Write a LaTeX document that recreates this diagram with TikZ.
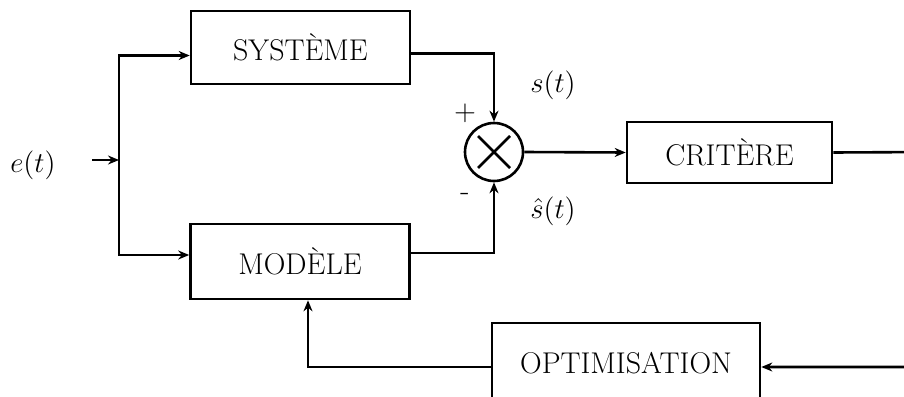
\documentclass[tikz,border=0pt]{standalone}
\usepackage{fontspec}
\usetikzlibrary{arrows.meta}
\begin{document}
\begin{tikzpicture}[x=0.5pt,y=-0.5pt,
  every node/.style={font=\fontsize{15}{18}\selectfont},
  blk/.style={draw, line width=1.3pt, rectangle, inner sep=0pt},
  wire/.style={line width=1.3pt},
  arr/.style={wire, -{Stealth[length=5.5pt,width=4.5pt]}},
  lbl/.style={inner sep=0pt}]
\useasboundingbox (0,0) rectangle (904,396);
% blocks
\node[blk, minimum width=109.5pt, minimum height=36.5pt] (sys) at (300.5,47.5) {SYSTÈME};
\node[blk, minimum width=109.5pt, minimum height=37.5pt] (mod) at (300,261.5) {MODÈLE};
\node[blk, minimum width=102.5pt, minimum height=30.5pt] (crit) at (729.5,152.5) {CRITÈRE};
\node[blk, minimum width=134pt, minimum height=40pt] (opt) at (626,363) {OPTIMISATION};
\node[draw, circle, line width=1.3pt, minimum size=29pt, inner sep=0pt] (sum) at (494,152) {};
\draw[wire] (sum.center) ++(-16,-16) -- ++(32,32);
\draw[wire] (sum.center) ++(-16,16) -- ++(32,-32);
% labels
\node[lbl] (e) at (33,165) {$e(t)$};
\node[lbl] (s) at (553,85) {$s(t)$};
\node[lbl] (sh) at (553,211) {$\hat{s}(t)$};
\node[lbl] (plus) at (465,113) {$+$};
\node[lbl] (minus) at (465,197) {-};
% connectors
\coordinate (in) at (92,160);
\coordinate (j) at (119,160);
\coordinate (r) at (930,152);
\draw[arr] (in) -- (j);
\draw[arr] (j) |- ([yshift=-4pt]sys.west);
\draw[arr] (j) |- ([yshift=3.25pt]mod.west);
\draw[arr] ([yshift=-3pt]sys.east) -| (sum.north);
\draw[arr] ([yshift=4.25pt]mod.east) -| (sum.south);
\draw[arr] (sum.east) -- (crit.west);
\draw[arr] (crit.east) -- (r) |- ([yshift=-2pt]opt.east);
\draw[arr] ([yshift=-2pt]opt.west) -| ([xshift=4pt]mod.south);
\end{tikzpicture}
\end{document}
